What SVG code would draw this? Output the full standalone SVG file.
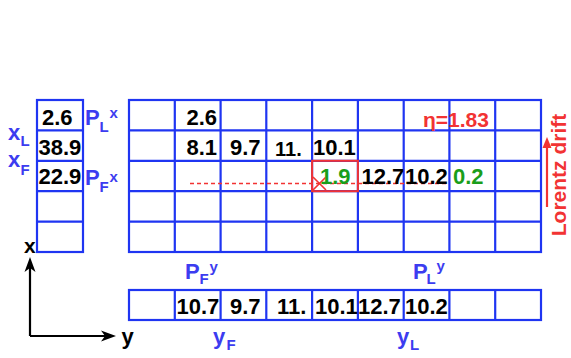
<svg xmlns="http://www.w3.org/2000/svg" width="571" height="358" viewBox="0 0 571 358">
<style>
.g{fill:none;stroke:#1f35f2;stroke-width:2.2}
.n{font-family:"Liberation Sans",Arial,sans-serif;font-weight:bold;font-size:22px;fill:#000}
.gr{fill:#1a9e1a}
.b{font-family:"Liberation Sans",Arial,sans-serif;font-weight:bold;font-size:22px;fill:#3c3cf0}
.s{font-size:15px}
.r{font-family:"Liberation Sans",Arial,sans-serif;font-weight:bold;font-size:21px;fill:#f23333}
.k{font-family:"Liberation Sans",Arial,sans-serif;font-weight:bold;font-size:22px;fill:#000}
</style>
<rect width="571" height="358" fill="#fff"/>
<g id="leftcol">
<rect class="g" x="37" y="100" width="46" height="152"/>
<path class="g" d="M37 130.4H83M37 160.8H83M37 191.2H83M37 221.6H83"/>
<text class="n" x="42" y="125">2.6</text>
<text class="n" x="38.5" y="155">38.9</text>
<text class="n" x="38.5" y="183.5">22.9</text>
</g>
<g id="maingrid">
<rect class="g" x="129" y="100" width="412" height="152"/>
<path class="g" d="M129 130.4H541M129 160.8H541M129 191.2H541M129 221.6H541M174.8 100V252M220.6 100V252M266.3 100V252M312.1 100V252M357.9 100V252M403.7 100V252M449.4 100V252M495.2 100V252"/>
<text class="n" x="186.5" y="125">2.6</text>
<text class="n" x="186.5" y="155">8.1</text>
<text class="n" x="230" y="155">9.7</text>
<text class="n" x="275" y="155.5" style="font-size:20px">11.</text>
<text class="n" x="313" y="155">10.1</text>
</g>
<g id="connectors">
<line x1="190" y1="183.5" x2="447" y2="183.5" stroke="#f23333" stroke-width="1.6" stroke-dasharray="4,3"/>
<path d="M547 207V146" stroke="#f23333" stroke-width="2.2" fill="none"/>
<polygon points="547,137 551.5,148 542.5,148" fill="#f23333"/>
<path d="M30 336V266M30 336H107" stroke="#000" stroke-width="2.2" fill="none"/>
<polygon points="30,257 35.5,272 30,268 24.5,272" fill="#000"/>
<polygon points="116,336 101,330.5 105,336 101,341.5" fill="#000"/>
</g>
<g id="seed">
<rect x="312.1" y="160.8" width="45.8" height="30.4" fill="none" stroke="#f23333" stroke-width="2"/>
<path d="M313 177L326 190M326 177L313 190" stroke="#f23333" stroke-width="1.6"/>
<text class="n gr" x="320" y="183.5">1.9</text>
</g>
<g id="row2">
<text class="n" x="361.5" y="183.5">12.7</text>
<text class="n" x="405" y="183.5">10.2</text>
<text class="n gr" x="453" y="183.5">0.2</text>
</g>
<g id="eta">
<text class="r" x="423" y="126.5">η=1.83</text>
</g>
<g id="lorentz">
<text class="r" transform="translate(566,175) rotate(-90)" text-anchor="middle">Lorentz drift</text>
</g>
<g id="bottomstrip">
<rect class="g" x="129" y="290" width="412" height="30"/>
<path class="g" d="M174.8 290V320M220.6 290V320M266.3 290V320M312.1 290V320M357.9 290V320M403.7 290V320M449.4 290V320M495.2 290V320"/>
<text class="n" x="176.5" y="313.5">10.7</text>
<text class="n" x="230" y="313.5">9.7</text>
<text class="n" x="277" y="313.5">11.</text>
<text class="n" x="315" y="313.5">10.1</text>
<text class="n" x="358" y="313.5">12.7</text>
<text class="n" x="405" y="313.5">10.2</text>
</g>
<g id="labels">
<text class="b" x="8" y="140">x</text><text class="b s" x="20.5" y="146">L</text>
<text class="b" x="8" y="167">x</text><text class="b s" x="20.5" y="175">F</text>
<text class="b" x="85" y="125">P</text><text class="b s" x="99.5" y="132">L</text><text class="b s" x="109.5" y="118">x</text>
<text class="b" x="85" y="185">P</text><text class="b s" x="99.5" y="192">F</text><text class="b s" x="109.5" y="182">x</text>
<text class="b" x="185" y="278.5">P</text><text class="b s" x="199.5" y="283.5">F</text><text class="b s" x="209.5" y="271.5">y</text>
<text class="b" x="413" y="278.5">P</text><text class="b s" x="426.5" y="283.5">L</text><text class="b s" x="436.5" y="271">y</text>
<text class="b" x="213" y="344">y</text><text class="b s" x="226.5" y="350">F</text>
<text class="b" x="397" y="344">y</text><text class="b s" x="410" y="350">L</text>
</g>
<g id="axes">
<text class="k" x="24" y="252.5" style="font-size:21px">x</text>
<text class="k" x="121.5" y="344">y</text>
</g>
</svg>
